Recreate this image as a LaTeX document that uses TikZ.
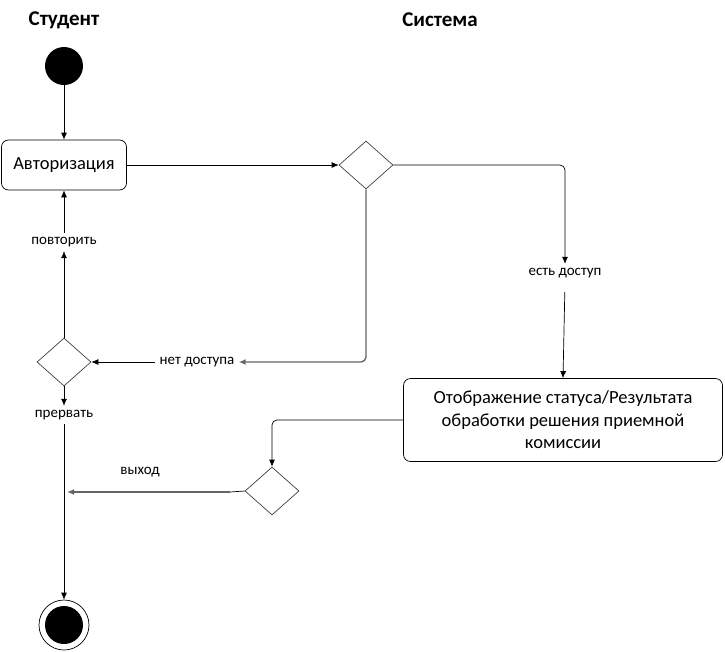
\documentclass[tikz,border=0pt]{standalone}
\usepackage{fontspec}
\setmainfont{Carlito}
\usetikzlibrary{shapes.geometric,arrows.meta}

\begin{document}
\begin{tikzpicture}[x=1pt,y=-1pt]
        \tikzstyle{every path}=[line width=0.7pt]

        \tikzstyle{lane}=[font=\fontsize{21}{24}\selectfont\bfseries]
        \tikzstyle{act}=[draw,rounded corners=7pt,align=center,inner sep=0pt]
        \tikzstyle{dec}=[draw=black!75,diamond,minimum width=54pt,minimum height=48pt,inner sep=0pt]
        \tikzstyle{lbl}=[font=\fontsize{15}{17}\selectfont,inner sep=4pt]
        \tikzstyle{flow}=[-{Latex[length=7pt,width=6pt]}]
        \tikzstyle{grayflow}=[flow,draw=black!60,line width=1.4pt]

        \useasboundingbox (0,0) rectangle (725,651);

        % swimlane titles
        \node [lane] (student) at (64,20) {Студент};
        \node [lane] (system) at (440,20) {Система};

        % states
        \node [circle,fill=black,minimum size=38pt,inner sep=0pt] (start) at (64,66) {};
        \node [act,minimum width=125pt,minimum height=50pt,font=\fontsize{18.5}{21}\selectfont] (auth) at (64,165) {Авторизация};
        \node [dec] (access) at (366,165) {};
        \node [act,minimum width=319pt,minimum height=83pt,font=\fontsize{18.5}{22.5}\selectfont] (status) at (563,420)
            {Отображение статуса/Результата\\обработки решения приемной\\комиссии};
        \node [dec] (choice) at (64,362) {};
        \node [dec] (leave) at (272,491) {};
        \node [circle,draw,minimum size=50pt,inner sep=0pt] (final) at (64,625) {};
        \node [circle,fill=black,minimum size=38pt,inner sep=0pt] (finaldot) at (final.center) {};

        % guards
        \node [lbl] (repeat) at (64,242) {повторить};
        \node [lbl] (granted) at (565,273) {есть доступ};
        \node [lbl] (denied) at (197,362) {нет доступа};
        \node [lbl] (abort) at (64,415) {прервать};
        \node [lbl] (quit) at (140,472) {выход};

        \coordinate (exitbend) at (230,492);
        \coordinate (join) at (64,492);

        \draw[flow] (start) -- (auth);                                        % start->auth
        \draw[flow] (auth) -- (access);                                       % auth->check
        \draw[flow, rounded corners=5pt] (access.east) -| (granted.north);    % check->ok
        \draw[flow, shorten <=10pt] (granted.south) -- (status.north);        % ok->status
        \draw[grayflow, rounded corners=5pt] (access.south) |- (denied.east); % check->denied
        \draw[flow] (denied) -- (choice.east);                                % denied->choice
        \draw[flow] (choice.north) -- (repeat.south);                         % choice->repeat
        \draw[flow] (repeat.north) -- (auth.south);                           % repeat->auth
        \draw[flow] (choice.south) -- (abort.north);                          % choice->abort
        \draw[flow] (abort.south) -- (final.north);                           % abort->end
        \draw[flow, rounded corners=5pt] (status.west) -| (leave.north);      % status->leave
        \draw (leave.west) -- (exitbend);                                     % leave->exit
        \draw[grayflow, shorten >=3pt] (exitbend) -- (join);                  % exit->end line

        \end{tikzpicture}
\end{document}
